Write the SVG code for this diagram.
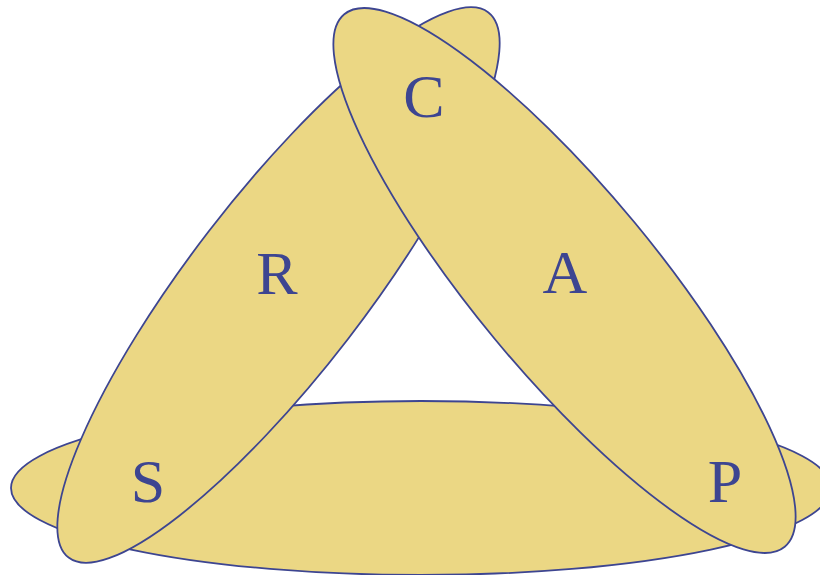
<svg xmlns="http://www.w3.org/2000/svg" width="820" height="575" viewBox="0 0 820 575">
<style>
.e{fill:#ebd784;stroke:#3d4591;stroke-width:1.8}
.t{font-family:"Liberation Serif","Times New Roman",serif;font-size:62px;fill:#3d4591;text-anchor:middle}
</style>
<rect width="820" height="575" fill="#ffffff"/>
<g id="bottom"><ellipse class="e" cx="421" cy="488" rx="410" ry="87"/></g>
<g id="left"><ellipse class="e" cx="278.5" cy="285" rx="344" ry="88" transform="rotate(-52.4 278.5 285)"/></g>
<g id="right"><ellipse class="e" cx="564.5" cy="280.5" rx="345.5" ry="91" transform="rotate(50.4 564.5 280.5)"/></g>
<g id="labels">
<text class="t" x="424" y="117">C</text>
<text class="t" x="277" y="294">R</text>
<text class="t" x="565" y="293">A</text>
<text class="t" x="148" y="502">S</text>
<text class="t" x="725" y="502">P</text>
</g>
</svg>
